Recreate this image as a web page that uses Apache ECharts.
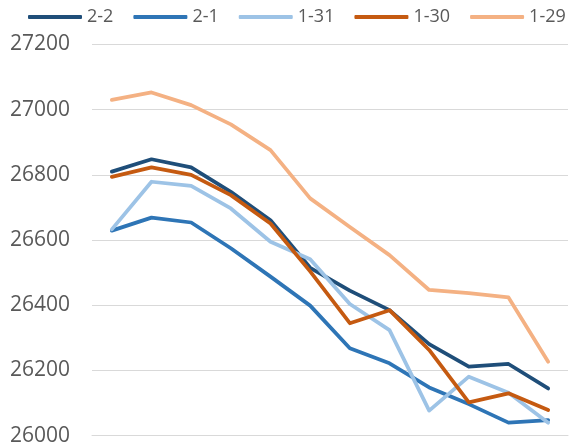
<!DOCTYPE html>
<html>
<head>
  <meta charset="UTF-8">
  <title>Line chart</title>
  <script src="https://cdn.jsdelivr.net/npm/echarts/dist/echarts.min.js"></script>
  <style>
    html, body { margin: 0; padding: 0; background: #fff; }
    #main { width: 571px; height: 448px; }
  </style>
</head>
<body>
  <div id="main"></div>
  <script>
    // data
    const categories = ['1', '2', '3', '4', '5', '6', '7', '8', '9', '10', '11', '12'];
    const seriesNames = ['2-2', '2-1', '1-31', '1-30', '1-29'];
    const seriesColors = ['#1F4E79', '#2E75B6', '#9DC3E6', '#C55A11', '#F4B183'];
    const d0202 = [26810, 26848, 26823, 26748, 26661, 26515, 26445, 26385, 26281, 26212, 26220, 26145];
    const d0201 = [26629, 26669, 26654, 26575, 26488, 26399, 26268, 26222, 26148, 26097, 26040, 26048];
    const d0131 = [26633, 26779, 26766, 26697, 26595, 26541, 26404, 26324, 26077, 26181, 26132, 26040];
    const d0130 = [26794, 26823, 26800, 26738, 26651, 26504, 26345, 26385, 26263, 26102, 26130, 26079];
    const d0129 = [27030, 27053, 27014, 26955, 26876, 26728, 26640, 26554, 26447, 26437, 26424, 26227];
    const seriesData = [d0202, d0201, d0131, d0130, d0129];

    const yMin = 26000;
    const yMax = 27200;
    const yStep = 200;

    const chart = echarts.init(document.getElementById('main'));

    const option = {
      animation: false,
      backgroundColor: '#fff',
      textStyle: { fontFamily: '"Open Sans", sans-serif' },
      legend: {
        top: 8,
        left: 28,
        width: 560,
        padding: 0,
        icon: 'roundRect',
        itemWidth: 54,
        itemHeight: 4,
        itemGap: 20,
        textStyle: { color: '#595959', fontSize: 18 },
        data: seriesNames
      },
      grid: { left: 92, right: 3, top: 44.5, bottom: 12.3 },
      xAxis: {
        type: 'category',
        data: categories,
        boundaryGap: true,
        axisLine: { show: true, lineStyle: { color: '#d9d9d9', width: 1 } },
        axisTick: { show: false },
        axisLabel: { show: false }
      },
      yAxis: {
        type: 'value',
        min: yMin,
        max: yMax,
        interval: yStep,
        axisLine: { show: false },
        axisTick: { show: false },
        axisLabel: {
          color: '#595959',
          fontSize: 21,
          margin: 22,
          formatter: v => String(v)
        },
        splitLine: { lineStyle: { color: '#d9d9d9', width: 1 } }
      },
      series: seriesNames.map((name, i) => ({
        name: name,
        type: 'line',
        data: seriesData[i],
        symbol: 'none',
        showSymbol: false,
        color: seriesColors[i],
        lineStyle: { width: 3.75, color: seriesColors[i], cap: 'round', join: 'round' }
      }))
    };

    chart.setOption(option);
  </script>
</body>
</html>
